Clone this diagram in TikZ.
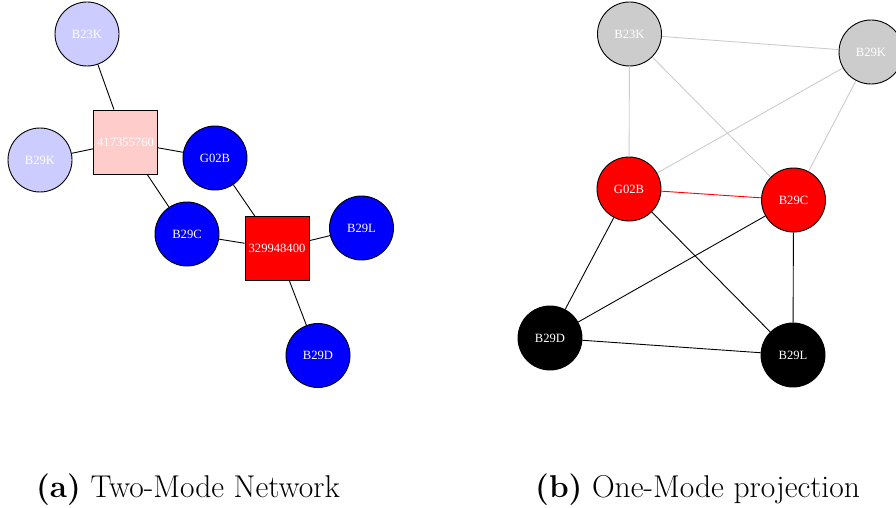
\documentclass[tikz,border=0pt]{standalone}
\usepackage{fontspec}
\newfontfamily\nodefont{Liberation Serif}
\definecolor{lav}{HTML}{CCCCFF}
\definecolor{pinkish}{HTML}{FFCCCC}
\definecolor{blu}{HTML}{0000FF}
\definecolor{rd}{HTML}{FF0000}
\definecolor{gry}{HTML}{CCCCCC}
\tikzset{
  vert/.style={circle, draw=black, line width=0.9pt, minimum size=64pt, inner sep=0pt, text=white, font=\nodefont\fontsize{12.6}{14}\selectfont},
  sq/.style={rectangle, draw=black, line width=0.9pt, minimum size=64pt, inner sep=0pt, text=white, font=\nodefont\fontsize{12.6}{14}\selectfont},
  lnk/.style={line width=0.9pt, draw=black},
  glnk/.style={line width=0.9pt, draw=gry},
  rlnk/.style={line width=0.9pt, draw=rd},
  captext/.style={font=\fontsize{31.5}{36}\selectfont, anchor=base west, inner sep=0pt}
}
\begin{document}
\begin{tikzpicture}[x=1pt,y=-1pt]
\useasboundingbox (0,0) rectangle (896,508);
\clip (0,0) rectangle (896,508);
% (a) two-mode
\node[vert, fill=lav] (aB23K) at (87,34) {B23K};
\node[vert, fill=lav] (aB29K) at (40,160) {B29K};
\node[sq, fill=pinkish] (s1) at (125.5,142) {417355760};
\node[vert, fill=blu] (aG02B) at (215,158) {G02B};
\node[vert, fill=blu] (aB29C) at (187,234) {B29C};
\node[sq, fill=rd] (s2) at (277,248.5) {329948400};
\node[vert, fill=blu] (aB29L) at (361.5,228) {B29L};
\node[vert, fill=blu] (aB29D) at (318,355.5) {B29D};
% (b) one-mode
\node[vert, fill=gry] (bB23K) at (629.5,34) {B23K};
\node[vert, fill=gry] (bB29K) at (871,52) {B29K};
\node[vert, fill=rd] (bG02B) at (629,189) {G02B};
\node[vert, fill=rd] (bB29C) at (793.5,200) {B29C};
\node[vert, fill=black] (bB29D) at (550,338) {B29D};
\node[vert, fill=black] (bB29L) at (793,355) {B29L};
% edges (a)
\draw[lnk] (aB23K) -- (s1);
\draw[lnk] (aB29K) -- (s1);
\draw[lnk] (s1) -- (aG02B);
\draw[lnk] (s1) -- (aB29C);
\draw[lnk] (aG02B) -- (s2);
\draw[lnk] (aB29C) -- (s2);
\draw[lnk] (aB29L) -- (s2);
\draw[lnk] (s2) -- (aB29D);
% edges (b)
\draw[glnk] (bB23K) -- (bB29K);
\draw[glnk] (bB23K) -- (bG02B);
\draw[glnk] (bB23K) -- (bB29C);
\draw[glnk] (bB29K) -- (bG02B);
\draw[glnk] (bB29K) -- (bB29C);
\draw[rlnk] (bG02B) -- (bB29C);
\draw[lnk] (bG02B) -- (bB29D);
\draw[lnk] (bG02B) -- (bB29L);
\draw[lnk] (bB29C) -- (bB29D);
\draw[lnk] (bB29C) -- (bB29L);
\draw[lnk] (bB29D) -- (bB29L);
% captions
\node[captext] (capa) at (36,497) {\textbf{(a)}\ Two-Mode Network};
\node[captext] (capb) at (535,497) {\textbf{(b)}\ One-Mode projection};
\end{tikzpicture}
\end{document}
